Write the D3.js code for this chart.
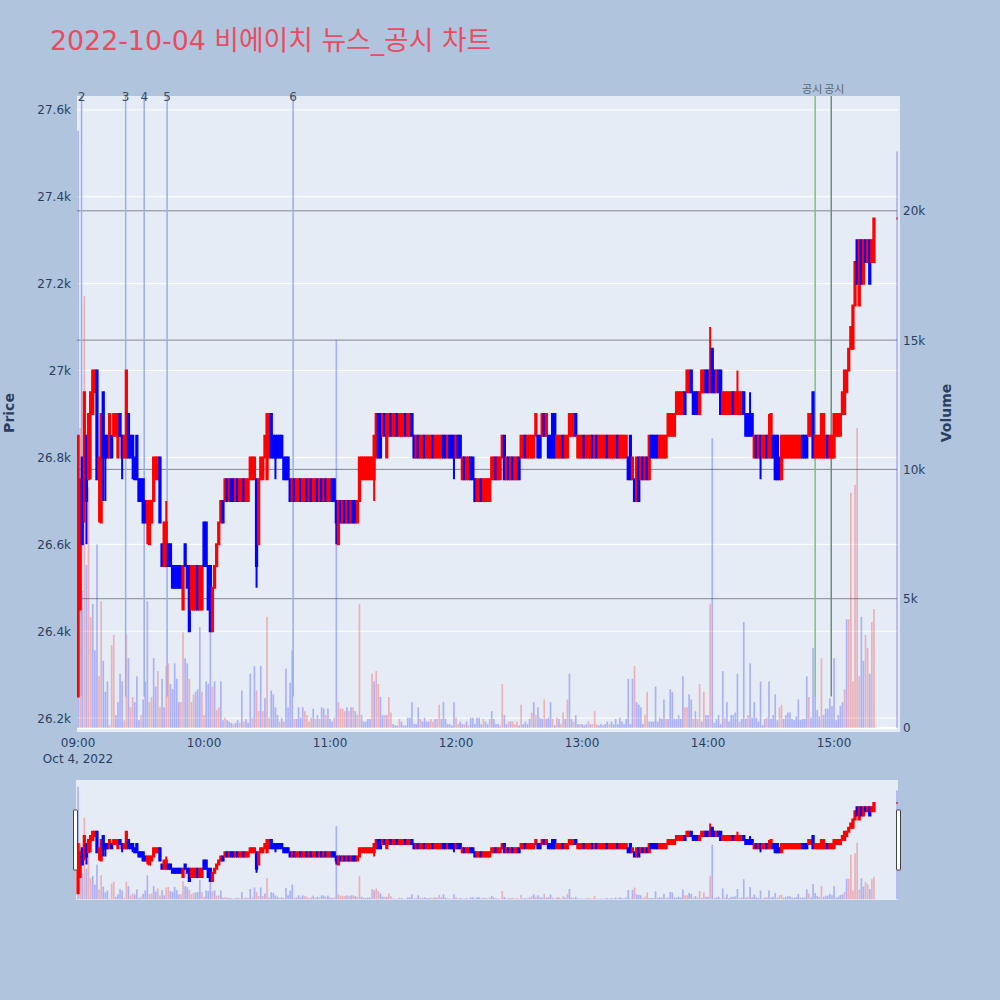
<!DOCTYPE html>
<html><head><meta charset="utf-8">
<script src="https://cdn.jsdelivr.net/npm/d3@7/dist/d3.min.js"></script>
<style>html,body{margin:0;padding:0;background:#b0c4de;}svg{display:block}</style>
</head><body>
<svg id="chart" width="1000" height="1000"></svg>
<script>
// ---------------- DATA ----------------
const titleText = "2022-10-04 비에이치 뉴스_공시 차트";
const sessionDate = "2022-10-04";
const firstBarTime = "09:00";
const lastBarTime = "15:19";
const closingTime = "15:30";
const dateTickLabel = "Oct 4, 2022";
const hourTicks = ["09:00","10:00","11:00","12:00","13:00","14:00","15:00"];
const priceTicks = [26200,26400,26600,26800,27000,27200,27400,27600];
const volumeTicks = [0,5000,10000,15000,20000];

const opens = [
26250,26450,26800,26750,26850,26750,26900,26900,26950,27000,
26750,26650,26950,26850,26850,26800,26850,26850,26850,26800,
26900,26850,26800,26800,26900,26850,26850,26800,26850,26750,
26750,26750,26700,26650,26600,26650,26700,26750,26750,26800,
26600,26550,26550,26600,26600,26550,26550,26550,26550,26550,
26450,26600,26550,26550,26450,26450,26450,26550,26450,26450,
26650,26650,26550,26550,26400,26500,26550,26600,26650,26700,
26700,26750,26700,26750,26750,26700,26750,26700,26700,26750,
26700,26700,26750,26750,26750,26750,26600,26750,26750,26800,
26750,26800,26900,26850,26850,26850,26850,26850,26800,26800,
26800,26750,26700,26750,26700,26700,26750,26700,26700,26750,
26700,26750,26700,26700,26750,26700,26750,26700,26750,26700,
26700,26750,26750,26700,26600,26700,26650,26700,26650,26700,
26650,26700,26700,26650,26700,26750,26750,26750,26750,26750,
26750,26750,26800,26900,26900,26850,26900,26800,26850,26900,
26850,26850,26900,26850,26850,26850,26900,26850,26850,26900,
26850,26800,26850,26800,26800,26850,26800,26800,26800,26850,
26800,26800,26800,26800,26850,26850,26800,26850,26850,26850,
26800,26850,26850,26750,26800,26750,26750,26800,26800,26750,
26700,26700,26750,26700,26700,26700,26700,26750,26750,26800,
26750,26750,26800,26850,26750,26800,26750,26800,26750,26750,
26800,26800,26800,26850,26800,26800,26800,26800,26850,26850,
26850,26850,26900,26850,26850,26850,26900,26900,26800,26800,
26800,26850,26800,26800,26850,26850,26850,26900,26800,26800,
26800,26850,26800,26800,26800,26850,26800,26850,26800,26800,
26800,26800,26850,26800,26800,26800,26800,26850,26800,26800,
26800,26800,26800,26850,26750,26750,26700,26800,26750,26800,
26750,26800,26750,26850,26850,26850,26850,26800,26800,26800,
26800,26850,26850,26850,26850,26900,26900,26900,26900,26950,
26950,26950,27000,26950,26950,26950,26900,26950,26950,27000,
27000,26950,27050,27000,26950,27000,27000,26900,26900,26900,
26900,26900,26950,26900,26900,26900,26900,26950,26900,26900,
26900,26900,26800,26850,26800,26850,26800,26800,26850,26800,
26800,26850,26850,26850,26800,26750,26800,26800,26800,26800,
26800,26800,26800,26800,26800,26850,26850,26850,26850,26850,
26950,26800,26800,26800,26800,26800,26800,26850,26800,26800,
26800,26850,26850,26850,26900,26900,26950,27000,27050,27050,
27150,27300,27150,27300,27200,27300,27250,27300,27250,27250,
27350];

const highs = [
26850,26750,26800,26950,26850,26900,26950,27000,27000,27000,
26800,26900,26950,26850,26850,26900,26850,26900,26900,26900,
26900,26850,26850,27000,26900,26850,26850,26800,26850,26750,
26750,26750,26700,26700,26700,26700,26800,26800,26800,26800,
26600,26650,26700,26600,26600,26550,26550,26550,26550,26550,
26550,26600,26550,26550,26550,26550,26550,26550,26550,26550,
26650,26650,26550,26550,26500,26550,26600,26650,26700,26700,
26750,26750,26750,26750,26750,26750,26750,26750,26750,26750,
26750,26750,26800,26800,26800,26750,26750,26800,26800,26850,
26900,26900,26900,26850,26850,26850,26850,26850,26800,26800,
26800,26750,26750,26750,26750,26750,26750,26750,26750,26750,
26750,26750,26750,26750,26750,26750,26750,26750,26750,26750,
26750,26750,26750,26700,26700,26700,26700,26700,26700,26700,
26700,26700,26700,26700,26800,26800,26800,26800,26800,26800,
26800,26850,26900,26900,26900,26900,26900,26900,26900,26900,
26900,26900,26900,26900,26900,26900,26900,26900,26900,26900,
26850,26850,26850,26850,26850,26850,26850,26850,26850,26850,
26850,26850,26850,26850,26850,26850,26850,26850,26850,26850,
26850,26850,26850,26800,26800,26800,26800,26800,26800,26750,
26750,26750,26750,26750,26750,26750,26750,26800,26800,26800,
26800,26800,26850,26850,26800,26800,26800,26800,26800,26800,
26800,26850,26850,26850,26850,26850,26850,26850,26900,26850,
26850,26900,26900,26900,26850,26850,26900,26900,26850,26850,
26850,26850,26850,26850,26900,26900,26900,26900,26850,26850,
26850,26850,26850,26850,26850,26850,26850,26850,26850,26850,
26850,26850,26850,26850,26850,26850,26850,26850,26850,26850,
26850,26850,26800,26850,26800,26750,26800,26800,26800,26800,
26800,26800,26850,26850,26850,26850,26850,26850,26850,26850,
26850,26900,26900,26900,26900,26950,26950,26950,26950,26950,
27000,27000,27000,26950,26950,26950,26950,27000,27000,27000,
27000,27100,27050,27000,27000,27000,27000,26950,26950,26950,
26950,26950,26950,26950,27000,26950,26950,26950,26900,26900,
26950,26900,26850,26850,26850,26850,26850,26850,26850,26900,
26900,26850,26850,26850,26800,26850,26850,26850,26850,26850,
26850,26850,26850,26850,26850,26850,26850,26850,26900,26900,
26950,26850,26850,26850,26900,26900,26850,26850,26850,26850,
26900,26900,26900,26900,26950,27000,27000,27050,27100,27150,
27250,27300,27300,27300,27300,27300,27300,27300,27300,27350,
27350];

const lows = [
26250,26450,26600,26650,26600,26750,26750,26900,26950,26750,
26650,26650,26700,26700,26800,26800,26800,26850,26850,26800,
26850,26750,26800,26800,26800,26800,26750,26750,26750,26700,
26700,26650,26650,26600,26600,26650,26700,26750,26750,26650,
26550,26550,26550,26550,26550,26500,26500,26500,26500,26500,
26450,26550,26500,26400,26450,26450,26450,26450,26450,26450,
26550,26550,26450,26400,26400,26500,26550,26600,26650,26650,
26700,26700,26700,26700,26700,26700,26700,26700,26700,26700,
26700,26700,26750,26750,26750,26500,26600,26750,26750,26800,
26750,26800,26800,26800,26750,26800,26800,26800,26750,26750,
26750,26700,26700,26700,26700,26700,26700,26700,26700,26700,
26700,26700,26700,26700,26700,26700,26700,26700,26700,26700,
26700,26700,26700,26600,26600,26650,26650,26650,26650,26650,
26650,26650,26650,26650,26700,26750,26750,26750,26750,26750,
26750,26700,26800,26800,26800,26850,26850,26800,26850,26850,
26850,26850,26850,26850,26850,26850,26850,26850,26850,26850,
26800,26800,26800,26800,26800,26800,26800,26800,26800,26800,
26800,26800,26800,26800,26800,26800,26800,26800,26800,26750,
26800,26800,26800,26750,26750,26750,26750,26750,26750,26700,
26700,26700,26700,26700,26700,26700,26700,26750,26750,26750,
26750,26750,26800,26750,26750,26750,26750,26750,26750,26750,
26750,26800,26800,26800,26800,26800,26800,26800,26850,26800,
26800,26850,26850,26850,26800,26800,26800,26800,26800,26800,
26800,26800,26800,26800,26850,26850,26850,26850,26800,26800,
26800,26800,26800,26800,26800,26800,26800,26800,26800,26800,
26800,26800,26800,26800,26800,26800,26800,26800,26800,26800,
26800,26800,26750,26750,26750,26700,26700,26700,26750,26750,
26750,26750,26750,26800,26800,26800,26800,26800,26800,26800,
26800,26850,26850,26850,26850,26900,26900,26900,26900,26900,
26950,26950,26950,26900,26900,26900,26900,26950,26950,26950,
26950,26950,26950,26950,26950,26950,26900,26900,26900,26900,
26900,26900,26900,26900,26900,26900,26900,26900,26850,26850,
26850,26850,26800,26800,26800,26750,26800,26800,26800,26800,
26800,26800,26750,26750,26750,26750,26800,26800,26800,26800,
26800,26800,26800,26800,26800,26800,26800,26800,26850,26850,
26800,26800,26800,26800,26800,26800,26800,26800,26800,26800,
26800,26850,26850,26850,26900,26900,26950,27000,27050,27050,
27150,27200,27150,27200,27200,27250,27250,27200,27250,27250,
27350];

const closes = [
26850,26750,26600,26950,26700,26900,26950,27000,27000,26750,
26800,26900,26800,26800,26800,26900,26800,26900,26900,26900,
26850,26800,26850,27000,26800,26800,26800,26750,26750,26700,
26700,26650,26650,26700,26700,26700,26800,26800,26800,26650,
26550,26650,26650,26550,26550,26500,26500,26500,26500,26500,
26550,26550,26500,26400,26550,26550,26550,26450,26550,26550,
26550,26550,26450,26400,26500,26550,26600,26650,26700,26650,
26750,26700,26750,26700,26700,26750,26700,26750,26750,26700,
26750,26750,26800,26800,26800,26550,26750,26800,26800,26850,
26900,26900,26800,26800,26800,26800,26800,26800,26750,26750,
26750,26700,26750,26700,26750,26750,26700,26750,26750,26700,
26750,26700,26750,26750,26700,26750,26700,26750,26700,26750,
26750,26700,26700,26650,26700,26650,26700,26650,26700,26650,
26700,26650,26650,26700,26800,26800,26800,26800,26800,26800,
26800,26850,26900,26800,26800,26900,26850,26900,26900,26850,
26900,26900,26850,26900,26900,26900,26850,26900,26900,26850,
26800,26850,26800,26850,26850,26800,26850,26850,26850,26800,
26850,26850,26850,26850,26800,26800,26850,26800,26800,26800,
26850,26800,26800,26800,26750,26800,26800,26750,26750,26700,
26750,26750,26700,26750,26750,26750,26750,26800,26800,26750,
26800,26800,26850,26750,26800,26750,26800,26750,26800,26800,
26750,26850,26850,26800,26850,26850,26850,26850,26900,26800,
26800,26900,26850,26900,26800,26800,26800,26800,26850,26850,
26850,26800,26850,26850,26900,26900,26900,26850,26850,26850,
26850,26800,26850,26850,26850,26800,26850,26800,26850,26850,
26850,26850,26800,26850,26850,26850,26850,26800,26850,26850,
26850,26850,26750,26750,26800,26700,26800,26700,26800,26750,
26800,26750,26850,26800,26800,26800,26800,26850,26850,26850,
26850,26900,26900,26900,26900,26950,26950,26950,26950,26900,
27000,27000,26950,26900,26900,26900,26950,27000,27000,26950,
26950,27000,26950,26950,27000,26950,26900,26950,26950,26950,
26950,26950,26900,26950,26950,26950,26950,26900,26850,26850,
26850,26850,26850,26800,26850,26800,26850,26850,26800,26850,
26900,26800,26750,26750,26750,26850,26850,26850,26850,26850,
26850,26850,26850,26850,26850,26800,26800,26800,26900,26900,
26800,26850,26850,26850,26900,26900,26850,26800,26850,26850,
26900,26900,26900,26900,26950,27000,27000,27050,27100,27150,
27250,27200,27300,27200,27300,27250,27300,27200,27300,27350,
27350];

const volumes = [
23100,11600,5300,16700,6300,9300,4300,4800,3000,7100,
2000,4900,2600,1400,1800,100,3200,3600,500,1000,
2100,1800,300,3600,2700,800,1200,1000,2000,300,
500,1100,1800,4900,1000,1200,2700,1600,2200,800,
1900,800,2400,2500,1700,1500,2500,1900,1000,1000,
3700,2700,2500,1900,1000,1300,1400,1500,3900,1400,
500,1800,1700,3700,1600,1800,700,800,1800,300,
400,300,250,200,150,200,300,200,1450,250,
350,200,2100,400,2400,1450,650,2400,650,1150,
4300,400,1450,1300,800,500,250,400,250,2300,
800,1750,3000,350,350,800,400,800,650,500,
250,400,750,350,500,350,800,750,500,750,
350,250,400,15000,1000,750,750,650,800,650,
800,800,650,500,4800,500,250,250,350,350,
2100,1800,2200,1700,1200,500,500,500,1200,600,
150,100,100,350,250,100,100,400,400,1000,
150,150,800,350,250,400,250,250,350,250,
350,350,900,350,1000,350,150,150,100,1000,
400,150,250,150,150,250,100,400,400,150,
400,400,150,350,250,150,350,650,350,150,
150,100,1700,500,150,250,250,250,150,250,
100,900,150,250,150,350,600,1000,500,800,
400,350,1100,350,400,1000,350,100,400,350,
150,600,350,1100,2100,350,250,500,150,150,
150,100,150,250,150,150,650,150,100,150,
100,150,250,150,250,150,350,150,400,250,
150,350,1900,150,1900,2400,1000,900,800,150,
500,1400,250,250,250,1600,250,400,350,1100,
350,350,1500,1400,350,350,500,350,2000,800,
800,1300,1100,350,650,350,1700,250,1400,500,
500,4800,11200,200,350,500,150,2200,400,1000,
250,500,500,600,2100,250,350,4100,350,500,
2500,400,1000,400,250,1800,100,350,400,1800,
350,500,1300,300,800,900,350,500,600,600,
350,300,450,1100,300,350,350,2000,1200,400,
3100,1250,700,450,2700,500,750,750,1150,850,
2700,300,500,850,1000,1500,4200,4200,9100,1800,
9400,11600,2000,4300,2600,3600,3100,2100,4100,4600,
22300];

// u = red (up) volume bar, d = blue (down) volume bar
const volumeSides = [
"d","u","d","u","d","u","u","d","d","d",
"u","u","d","d","d","u","u","u","d","d",
"d","d","u","u","d","u","u","d","d","d",
"u","d","d","d","u","u","d","d","u","u",
"d","d","u","u","d","d","d","d","d","u",
"u","d","d","u","u","u","d","d","d","u",
"u","d","d","d","u","d","u","u","d","d",
"u","d","d","d","u","d","d","u","d","u",
"d","d","d","u","d","u","u","d","u","d",
"u","u","d","d","d","d","u","d","u","d",
"d","d","d","u","d","d","d","d","u","u",
"u","u","d","u","d","u","d","d","u","d",
"d","d","u","d","u","u","u","u","d","u",
"d","u","d","u","u","d","d","d","d","d",
"u","d","u","u","d","d","u","d","u","u",
"d","d","d","u","d","d","d","d","d","d",
"d","d","d","u","d","d","d","d","u","u",
"d","u","u","d","d","d","d","d","d","d",
"u","u","d","d","u","d","u","d","d","d",
"d","d","d","u","d","d","u","d","d","d",
"d","u","u","d","d","u","d","u","u","u",
"d","u","d","d","d","d","u","d","u","d",
"d","d","u","d","d","d","u","d","u","d",
"u","u","d","u","d","d","u","d","d","u",
"d","d","d","u","d","u","u","u","d","d",
"d","d","d","u","d","d","d","d","d","d",
"d","d","d","d","d","u","d","d","d","d",
"u","u","d","d","d","d","d","d","d","d",
"u","d","d","d","d","d","d","d","d","u",
"u","d","d","u","d","u","u","d","u","d",
"d","u","d","d","d","d","d","d","u","d",
"d","d","d","d","d","u","d","d","d","u",
"d","d","d","d","d","d","d","d","u","d",
"d","d","d","d","u","u","d","d","d","d",
"d","d","d","d","d","d","d","d","u","d",
"d","d","d","d","u","d","d","d","d","d",
"d","d","d","d","d","u","d","u","u","u",
"u","u","u","d","d","u","u","d","u","u",
"d"];

const newsLabels = ["2","3","4","5","6","공시","공시"];
const newsTimes = ["09:01:40","09:22:40","09:31:30","09:42:25","10:42:25","14:51:00","14:58:40"];
const newsKinds = ["news","news","news","news","news","disclosure","disclosure"];

// ---------------- DRAWING ----------------
const UP = "#ff0000", DOWN = "#0000ff";
const FONT = "'DejaVu Sans', Verdana, sans-serif";
const INK = "#2a3f5f";
const svg = d3.select("#chart");
svg.append("rect").attr("width",1000).attr("height",1000).attr("fill","#b0c4de");

const parseT = d3.timeParse("%Y-%m-%d %H:%M:%S");
const tOpen = parseT(`${sessionDate} ${firstBarTime}:00`);
const tLast = parseT(`${sessionDate} ${lastBarTime}:00`);
const tClose = parseT(`${sessionDate} ${closingTime}:00`);
const barTimes = d3.timeMinute.range(tOpen, d3.timeMinute.offset(tLast, 1));
barTimes.push(tClose);

const bars = barTimes.map((t,i)=>({t, o:opens[i], h:highs[i], l:lows[i], c:closes[i], v:volumes[i], side:volumeSides[i]}));
bars.forEach((b,i)=>{
  if (b.c > b.o) b.up = true;
  else if (b.c < b.o) b.up = false;
  else b.up = i === 0 ? true : b.c >= bars[i-1].c;
});

const P = {left:77, right:900, top:96, bottom:732};
const R = {left:76, right:898, top:780, bottom:900};

const xMain = d3.scaleTime()
  .domain([d3.timeSecond.offset(tOpen,-30), d3.timeMinute.offset(tClose,1)])
  .range([77, 899.15]);
const priceDomain = [26168, 27632];
const volDomain = [-155, 24440];
const yPrice = d3.scaleLinear().domain(priceDomain).range([P.bottom, P.top]);
const yVol = d3.scaleLinear().domain(volDomain).range([P.bottom, P.top]);
const xRange = xMain.copy().range([77, 899.15]);
const yPriceR = d3.scaleLinear().domain(priceDomain).range([R.bottom, R.top]);
const yVolR = d3.scaleLinear().domain(volDomain).range([R.bottom, R.top]);

// title
svg.append("text").attr("x",50).attr("y",50)
  .attr("font-family","'DejaVu Sans','Noto Sans CJK KR',sans-serif")
  .attr("font-size",26.8).attr("fill","#e94c62").text(titleText);

// plot background
svg.append("rect").attr("x",P.left).attr("y",P.top)
  .attr("width",P.right-P.left).attr("height",P.bottom-P.top).attr("fill","#e5ecf6");
const defs = svg.append("defs");
defs.append("clipPath").attr("id","clipMain").append("rect")
  .attr("x",P.left).attr("y",P.top).attr("width",P.right-P.left).attr("height",P.bottom-P.top);
defs.append("clipPath").attr("id","clipRange").append("rect")
  .attr("x",R.left).attr("y",R.top).attr("width",R.right-R.left).attr("height",R.bottom-R.top);

// price grid (white)
svg.append("g").selectAll("line").data(priceTicks).join("line")
  .attr("x1",P.left).attr("x2",P.right-2)
  .attr("y1",d=>yPrice(d)).attr("y2",d=>yPrice(d))
  .attr("stroke","#ffffff").attr("stroke-width",1);
// volume zero line
svg.append("line").attr("x1",P.left).attr("x2",P.right-2)
  .attr("y1",yVol(0)).attr("y2",yVol(0)).attr("stroke","#ffffff").attr("stroke-width",2);
// volume grid (gray)
svg.append("g").selectAll("line").data(volumeTicks.filter(d=>d>0)).join("line")
  .attr("x1",P.left).attr("x2",P.right-3)
  .attr("y1",d=>yVol(d)).attr("y2",d=>yVol(d))
  .attr("stroke","#85888f").attr("stroke-width",1);

function drawVolumes(g, xS, yS){
  const bw = 1.68;
  g.selectAll("rect.vol").data(bars).join("rect").attr("class","vol")
    .attr("x",d=>xS(d.t)-bw/2).attr("width",bw)
    .attr("y",d=>yS(d.v)).attr("height",d=>Math.max(0,yS(0)-yS(d.v)))
    .attr("fill",d=>d.side==="u"?UP:DOWN).attr("fill-opacity",0.25);
}
function drawCandles(g, xS, yS){
  const bw = 1.26;
  g.selectAll("path.candle").data(bars).join("path").attr("class","candle")
    .attr("d",d=>{
      const cx = xS(d.t), yo = yS(d.o), yc = yS(d.c), yh = yS(d.h), yl = yS(d.l);
      const top = Math.min(yo,yc), bot = Math.max(yo,yc);
      return `M${cx-bw/2},${top}H${cx+bw/2}V${bot}H${cx-bw/2}Z`
        + `M${cx},${top}V${yh}M${cx},${bot}V${yl}`;
    })
    .attr("fill",d=>d.up?UP:DOWN).attr("stroke",d=>d.up?UP:DOWN)
    .attr("stroke-width",2).attr("stroke-linejoin","miter");
}

const main = svg.append("g").attr("clip-path","url(#clipMain)");
drawVolumes(main.append("g"), xMain, yVol);

// news / disclosure lines
const parseNews = s => parseT(`${sessionDate} ${s}`);
const newsG = main.append("g");
newsLabels.forEach((lab,i)=>{
  const xx = xMain(parseNews(newsTimes[i]));
  newsG.append("line").attr("x1",xx).attr("x2",xx)
    .attr("y1",P.top).attr("y2",yPrice(26250))
    .attr("stroke", newsKinds[i]==="news" ? "#9aaeea" : (i===5 ? "#7dbf7d" : "#6f8f78"))
    .attr("stroke-width",1.5);
});
drawCandles(main.append("g"), xMain, yPrice);

// news labels
newsLabels.forEach((lab,i)=>{
  const xx = xMain(parseNews(newsTimes[i]));
  const isNews = newsKinds[i]==="news";
  svg.append("text").attr("x", isNews ? xx : xx + (i===5 ? -3 : 3)).attr("y", isNews ? 101 : 93)
    .attr("text-anchor","middle").attr("font-family","'DejaVu Sans','Noto Sans CJK KR',sans-serif")
    .attr("font-size", isNews ? 12 : 11).attr("fill", isNews ? "#3b4a63" : "#5a6577").text(lab);
});

// axes labels
const fmtK = d3.format("~s");
svg.append("g").selectAll("text").data(priceTicks).join("text")
  .attr("x",71).attr("y",d=>yPrice(d)+4.5).attr("text-anchor","end")
  .attr("font-family",FONT).attr("font-size",12).attr("fill",INK).text(d=>fmtK(d));
svg.append("g").selectAll("text").data(volumeTicks).join("text")
  .attr("x",903).attr("y",d=>yVol(d)+4.5).attr("text-anchor","start")
  .attr("font-family",FONT).attr("font-size",12).attr("fill",INK).text(d=>fmtK(d));
svg.append("g").selectAll("text").data(hourTicks).join("text")
  .attr("x",d=>xMain(parseT(`${sessionDate} ${d}:00`))).attr("y",747).attr("text-anchor","middle")
  .attr("font-family",FONT).attr("font-size",12).attr("fill",INK).text(d=>d);
svg.append("text").attr("x",xMain(tOpen)).attr("y",763).attr("text-anchor","middle")
  .attr("font-family",FONT).attr("font-size",12).attr("fill",INK).text(dateTickLabel);
svg.append("text").attr("transform","translate(14,413) rotate(-90)").attr("text-anchor","middle")
  .attr("font-family",FONT).attr("font-size",14).attr("font-weight","bold").attr("fill",INK).text("Price");
svg.append("text").attr("transform","translate(951,413) rotate(-90)").attr("text-anchor","middle")
  .attr("font-family",FONT).attr("font-size",14).attr("font-weight","bold").attr("fill",INK).text("Volume");

// range slider
svg.append("rect").attr("x",R.left).attr("y",R.top).attr("width",R.right-R.left).attr("height",R.bottom-R.top)
  .attr("fill","#e5ecf6");
const rs = svg.append("g").attr("clip-path","url(#clipRange)");
drawVolumes(rs.append("g"), xRange, yVolR);
drawCandles(rs.append("g"), xRange, yPriceR);
[[73.5,810],[896.5,810]].forEach(([hx,hy])=>{
  svg.append("rect").attr("x",hx).attr("y",hy).attr("width",4).attr("height",60)
    .attr("fill","#ffffff").attr("stroke","#444").attr("stroke-width",1).attr("rx",0.5);
});
</script>
</body></html>
